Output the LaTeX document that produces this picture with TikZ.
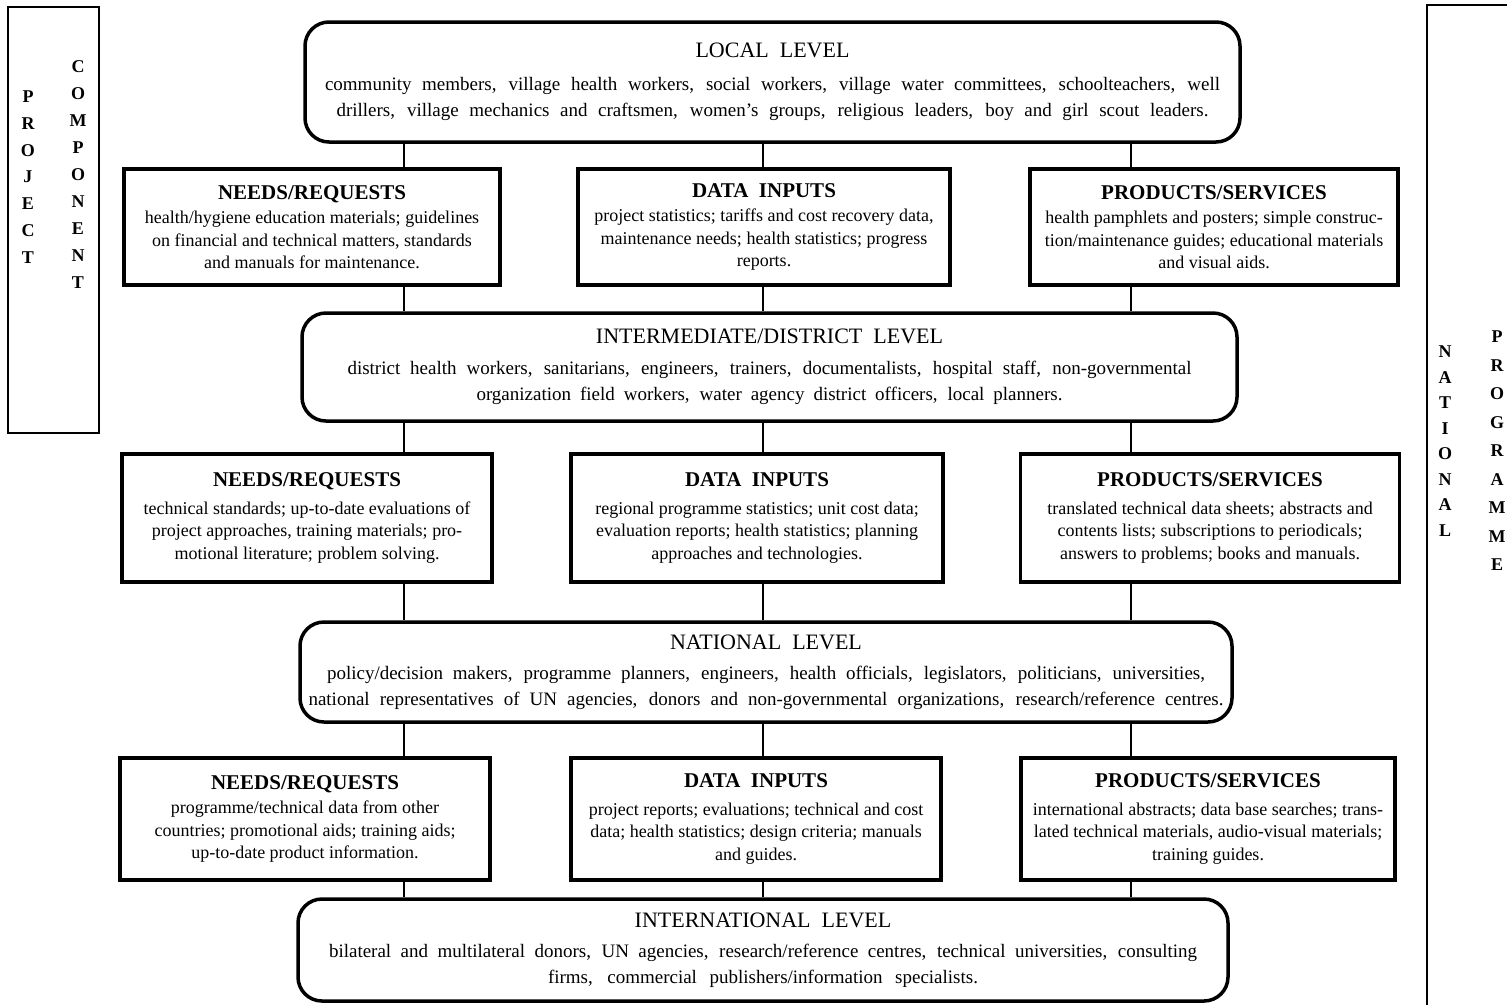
\documentclass[tikz,border=0pt]{standalone}
\usepackage{fontspec}
\setmainfont{Liberation Serif}
\newcommand\lvlhead{\fontsize{22}{26}\selectfont}
\newcommand\lvltext{\fontsize{19}{26}\selectfont}
\newcommand\boxhead{\fontsize{21}{26}\selectfont\bfseries}
\newcommand\boxtext{\fontsize{18}{22.5}\selectfont}
\newcommand\jline[2]{\makebox[#1][s]{#2}}

\tikzset{
    level/.style={draw,line width=3.5pt,rounded corners=24pt,inner sep=0pt,align=center,font=\lvltext},
    infobox/.style={draw,line width=3.5pt,inner sep=0pt,align=center,font=\boxtext},
    link/.style={line width=2.6pt},
    sideframe/.style={line width=1.3pt},
    sideword/.style={font=\fontsize{18}{#1}\selectfont\bfseries,align=center,inner sep=0pt}
}

\begin{document}
\begin{tikzpicture}[x=1pt,y=-1pt]
\useasboundingbox (0,0) rectangle (1507,1005);

\draw[sideframe] (8,7) rectangle (99,433);
\draw[sideframe] (1507,5)--(1427,5)--(1427,1005);
\node[sideword=26.7] (project) at (28,177) {P\\R\\O\\J\\E\\C\\T};
\node[sideword=27] (component) at (78,175) {C\\O\\M\\P\\O\\N\\E\\N\\T};
\node[sideword=25.5] (nationalw) at (1445,441) {N\\A\\T\\I\\O\\N\\A\\L};
\node[sideword=28.5] (programme) at (1497,451) {P\\R\\O\\G\\R\\A\\M\\M\\E};

\node[level,minimum width=935pt,minimum height=120pt] (local) at (772.5,82) {{\lvlhead LOCAL\enspace LEVEL}\\[7pt]
\jline{895pt}{community members, village health workers, social workers, village water committees, schoolteachers, well}\\
\jline{872pt}{drillers, village mechanics and craftsmen, women's groups, religious leaders, boy and girl scout leaders.}};

\node[infobox,minimum width=376pt,minimum height=116pt] (needs1) at (312,227) {{\boxhead NEEDS/REQUESTS}\\[2pt]
health/hygiene education materials; guidelines\\ on financial and technical matters, standards\\ and manuals for maintenance.};
\node[infobox,minimum width=372pt,minimum height=116pt] (data1) at (764,227) {{\boxhead DATA\enspace INPUTS}\\[2pt]
project statistics; tariffs and cost recovery data,\\ maintenance needs; health statistics; progress\\ reports.};
\node[infobox,minimum width=368pt,minimum height=116pt] (prod1) at (1214,227) {{\boxhead PRODUCTS/SERVICES}\\[2pt]
health pamphlets and posters; simple construc-\\ tion/maintenance guides; educational materials\\ and visual aids.};

\node[level,minimum width=935pt,minimum height=108pt] (district) at (769.5,367) {{\lvlhead INTERMEDIATE/DISTRICT\enspace LEVEL}\\[5pt]
\jline{844pt}{district health workers, sanitarians, engineers, trainers, documentalists, hospital staff, non-governmental}\\
\jline{586pt}{organization field workers, water agency district officers, local planners.}};

\node[infobox,minimum width=370pt,minimum height=128pt] (needs2) at (307,518) {{\boxhead NEEDS/REQUESTS}\\[5pt]
technical standards; up-to-date evaluations of\\ project approaches, training materials; pro-\\ motional literature; problem solving.};
\node[infobox,minimum width=372pt,minimum height=128pt] (data2) at (757,518) {{\boxhead DATA\enspace INPUTS}\\[5pt]
regional programme statistics; unit cost data;\\ evaluation reports; health statistics; planning\\ approaches and technologies.};
\node[infobox,minimum width=379pt,minimum height=128pt] (prod2) at (1210,518) {{\boxhead PRODUCTS/SERVICES}\\[5pt]
translated technical data sheets; abstracts and\\ contents lists; subscriptions to periodicals;\\ answers to problems; books and manuals.};

\node[level,minimum width=932pt,minimum height=100pt] (national) at (766,672) {{\lvlhead NATIONAL\enspace LEVEL}\\[4pt]
\jline{878pt}{policy/decision makers, programme planners, engineers, health officials, legislators, politicians, universities,}\\
\jline{915pt}{national representatives of UN agencies, donors and non-governmental organizations, research/reference centres.}};

\node[infobox,minimum width=370pt,minimum height=122pt] (needs3) at (305,819) {{\boxhead NEEDS/REQUESTS}\\[2pt]
programme/technical data from other\\ countries; promotional aids; training aids;\\ up-to-date product information.};
\node[infobox,minimum width=370pt,minimum height=122pt] (data3) at (756,819) {{\boxhead DATA\enspace INPUTS}\\[5pt]
project reports; evaluations; technical and cost\\ data; health statistics; design criteria; manuals\\ and guides.};
\node[infobox,minimum width=374pt,minimum height=122pt] (prod3) at (1208,819) {{\boxhead PRODUCTS/SERVICES}\\[5pt]
international abstracts; data base searches; trans-\\ lated technical materials, audio-visual materials;\\ training guides.};

\node[level,minimum width=930pt,minimum height=102pt] (intl) at (763,950) {{\lvlhead INTERNATIONAL\enspace LEVEL}\\[4pt]
\jline{868pt}{bilateral and multilateral donors, UN agencies, research/reference centres, technical universities, consulting}\\
\jline{430pt}{firms, commercial publishers/information specialists.}};

\coordinate (colA) at (404,0);
\coordinate (colB) at (763,0);
\coordinate (colC) at (1131,0);
\foreach \up/\n/\down in {local/1/district,district/2/national,national/3/intl}{
    \draw[link] (\up.south -| colA)--(needs\n.north -| colA) (needs\n.south -| colA)--(\down.north -| colA);
    \draw[link] (\up.south -| colB)--(data\n.north -| colB) (data\n.south -| colB)--(\down.north -| colB);
    \draw[link] (\up.south -| colC)--(prod\n.north -| colC) (prod\n.south -| colC)--(\down.north -| colC);
}

\end{tikzpicture}
\end{document}
